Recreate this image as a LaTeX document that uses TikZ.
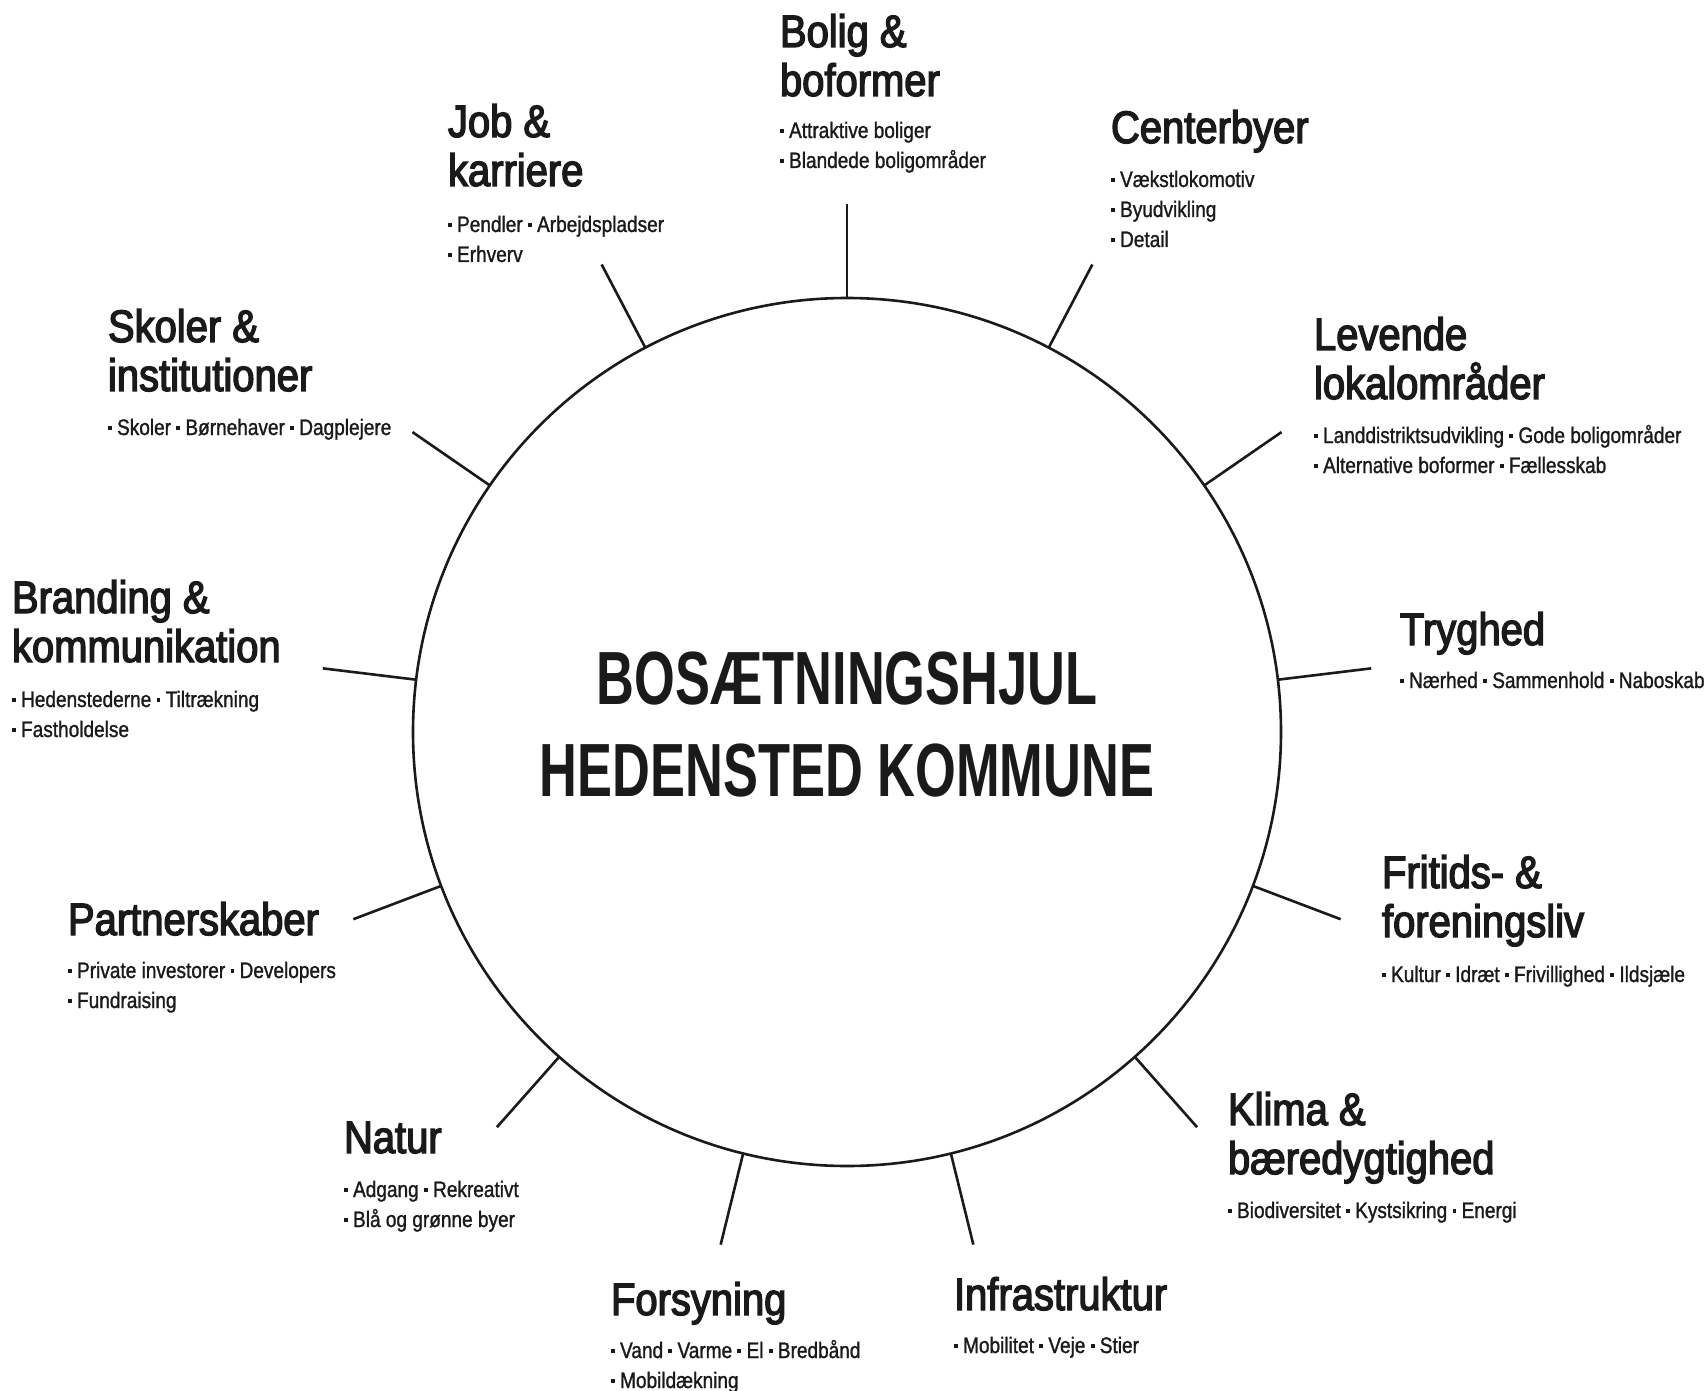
\documentclass[tikz,border=0pt]{standalone}
\usepackage{fontspec}
\setmainfont{Liberation Sans}[FakeStretch=0.85, FakeBold=1.2]
\newfontfamily\headfont{Liberation Sans}[FakeStretch=0.88, FakeBold=3]
\newfontfamily\titlefont{Liberation Sans}[FakeStretch=0.695]
\usetikzlibrary{calc}
\definecolor{ink}{HTML}{1A1A1A}
\newcommand{\bl}{\raisebox{2.5pt}{\rule{1.9pt}{1.9pt}}\ }
\newcommand{\llines}[1]{\vtop{\halign{##\hfil\cr#1\crcr}}}
\newcommand{\clines}[1]{\vtop{\halign{\hfil##\hfil\cr#1\crcr}}}
\begin{document}
\begin{tikzpicture}[x=0.5pt,y=-0.5pt,
  hd/.style={anchor=base west, inner sep=0, outer sep=0, text=ink,
    font=\headfont\fontsize{22.7}{24.5}\selectfont},
  bt/.style={anchor=base west, inner sep=0, outer sep=0, text=ink,
    font=\fontsize{11.2}{15}\selectfont},
  spoke/.style={draw=ink, line width=1.3pt}]
\useasboundingbox (0,0) rectangle (1708,1391);
\fill[white] (0,0) rectangle (1708,1391);

\node[circle, draw=ink, line width=1.3pt, minimum size=434pt, inner sep=0, outer sep=0] (wheel) at (847,732) {};
\node[anchor=base, inner sep=0, text=ink,
  font=\titlefont\bfseries\fontsize{37.7}{46}\selectfont] (title) at (847,704)
  {\clines{BOSÆTNINGSHJUL\cr HEDENSTED KOMMUNE}};

\foreach \k in {0,...,12}{
  \pgfmathsetmacro\ang{90-\k*360/13}
  \coordinate (s\k) at ({847+528*cos(\ang)},{732-528*sin(\ang)});
  \draw[spoke] (wheel) -- (s\k);
}

% Bolig
\node[hd] (h0) at (780,47) {\llines{Bolig \&\cr boformer}};
\node[bt] (b0) at (780,138) {\llines{\bl Attraktive boliger\cr \bl Blandede boligområder}};
% Centerbyer
\node[hd] (h1) at (1111,143) {\llines{Centerbyer}};
\node[bt] (b1) at (1111,187) {\llines{\bl Vækstlokomotiv\cr \bl Byudvikling\cr \bl Detail}};
% Levende
\node[hd] (h2) at (1314,350) {\llines{Levende\cr lokalområder}};
\node[bt] (b2) at (1314,443) {\llines{\bl Landdistriktsudvikling \bl Gode boligområder\cr \bl Alternative boformer \bl Fællesskab}};
% Tryghed
\node[hd] (h3) at (1400,645) {\llines{Tryghed}};
\node[bt] (b3) at (1400,688) {\llines{\bl Nærhed \bl Sammenhold \bl Naboskab}};
% Fritids
\node[hd] (h4) at (1382,888) {\llines{Fritids- \&\cr foreningsliv}};
\node[bt] (b4) at (1382,982) {\llines{\bl Kultur \bl Idræt \bl Frivillighed \bl Ildsjæle}};
% Klima
\node[hd] (h5) at (1228,1125) {\llines{Klima \&\cr bæredygtighed}};
\node[bt] (b5) at (1228,1218) {\llines{\bl Biodiversitet \bl Kystsikring \bl Energi}};
% Infrastruktur
\node[hd] (h6) at (954,1310) {\llines{Infrastruktur}};
\node[bt] (b6) at (954,1353) {\llines{\bl Mobilitet \bl Veje \bl Stier}};
% Forsyning
\node[hd] (h7) at (611,1315) {\llines{Forsyning}};
\node[bt] (b7) at (611,1358) {\llines{\bl Vand \bl Varme \bl El \bl Bredbånd\cr \bl Mobildækning}};
% Natur
\node[hd] (h8) at (344,1153) {\llines{Natur}};
\node[bt] (b8) at (344,1197) {\llines{\bl Adgang \bl Rekreativt\cr \bl Blå og grønne byer}};
% Partnerskaber
\node[hd] (h9) at (68,935) {\llines{Partnerskaber}};
\node[bt] (b9) at (68,978) {\llines{\bl Private investorer \bl Developers\cr \bl Fundraising}};
% Branding
\node[hd] (h10) at (12,613) {\llines{Branding \&\cr kommunikation}};
\node[bt] (b10) at (12,707) {\llines{\bl Hedenstederne \bl Tiltrækning\cr \bl Fastholdelse}};
% Skoler
\node[hd] (h11) at (108,342) {\llines{Skoler \&\cr institutioner}};
\node[bt] (b11) at (108,435) {\llines{\bl Skoler \bl Børnehaver \bl Dagplejere}};
% Job
\node[hd] (h12) at (448,137) {\llines{Job \&\cr karriere}};
\node[bt] (b12) at (448,232) {\llines{\bl Pendler \bl Arbejdspladser\cr \bl Erhverv}};
\end{tikzpicture}
\end{document}
